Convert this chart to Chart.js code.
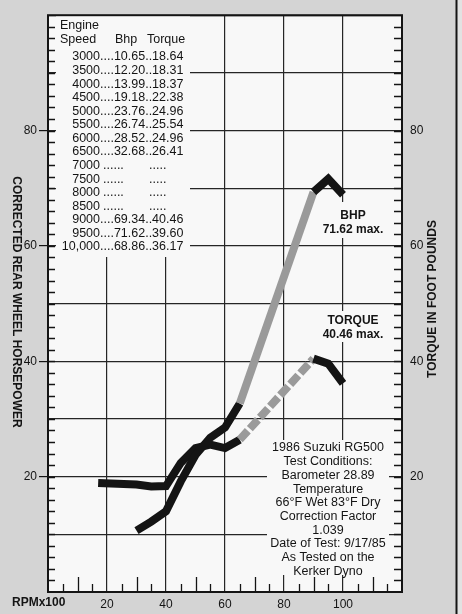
<!DOCTYPE html>
<html>
<head>
<meta charset="utf-8">
<script src="https://cdn.jsdelivr.net/npm/chart.js@4"></script>
<style>
  html, body { margin: 0; padding: 0; background: #d4d4d4; }
  #wrap { width: 462px; height: 614px; position: relative; }
</style>
</head>
<body>
<div id="wrap"><canvas id="dynoChart"></canvas></div>
<script>
// engine speed in RPM x100, same rows as the printed table
const speeds = [30, 35, 40, 45, 50, 55, 60, 65, 70, 75, 80, 85, 90, 95, 100];
const speedLabels = ['3000', '3500', '4000', '4500', '5000', '5500', '6000', '6500',
                     '7000', '7500', '8000', '8500', '9000', '9500', '10,000'];
const bhp    = [10.65, 12.20, 13.99, 19.18, 23.76, 26.74, 28.52, 32.68, null, null, null, null, 69.34, 71.62, 68.86];
const torque = [18.64, 18.31, 18.37, 22.38, 24.96, 25.54, 24.96, 26.41, null, null, null, null, 40.46, 39.60, 36.17];
// the torque trace on the graph starts a little before 3000 rpm
const torqueLeadIn = { x: 17, y: 18.9 };

const testNotes = ['1986 Suzuki RG500', 'Test Conditions:', 'Barometer 28.89', 'Temperature',
                   '66°F Wet 83°F Dry', 'Correction Factor', '1.039', 'Date of Test: 9/17/85',
                   'As Tested on the', 'Kerker Dyno'];

const FONT = '"Liberation Sans", Arial, Helvetica, sans-serif';
const INK = '#141414';
const GREY_TRACE = '#9a9a9a';
const labelled = [20, 40, 60, 80];

// the stretch with no readings (7000-8500) is bridged in grey
const skipped = (c, value, other) => (c.p0.skip || c.p1.skip) ? value : other;

const paperPlugin = {
    id: 'paper',
    beforeDraw(chart) {
        const { ctx, chartArea: a, width, height } = chart;
        ctx.save();
        ctx.fillStyle = '#d4d4d4';
        ctx.fillRect(0, 0, width, height);
        ctx.fillStyle = '#e2e2e2';
        ctx.fillRect(457, 0, width - 457, height);
        ctx.fillStyle = '#f8f8f8';
        ctx.fillRect(a.left, a.top, a.right - a.left, a.bottom - a.top);
        ctx.strokeStyle = INK;
        ctx.lineWidth = 2;
        ctx.beginPath();
        ctx.moveTo(456.5, 0);
        ctx.lineTo(456.5, height);
        ctx.stroke();
        ctx.restore();
    },
    beforeDatasetsDraw(chart) {
        const { ctx, chartArea: a, scales } = chart;
        const x = scales.x, y = scales.y;
        ctx.save();
        // white patches behind the printed text
        ctx.fillStyle = '#f8f8f8';
        ctx.fillRect(56, 16, 134, 241);
        ctx.fillRect(267, 440, 122, 135);
        ctx.fillRect(322, 202, 64, 36);
        ctx.fillRect(322, 311, 64, 31);

        // small inside ticks
        ctx.strokeStyle = INK;
        ctx.lineWidth = 1.3;
        ctx.beginPath();
        for (let v = 2; v < 100; v += 2) {
            const py = Math.round(y.getPixelForValue(v)) + 0.5;
            ctx.moveTo(a.left, py); ctx.lineTo(a.left + 7, py);
            ctx.moveTo(a.right, py); ctx.lineTo(a.right - 8, py);
        }
        for (let v = 5; v < 120; v += 5) {
            if (v % 20 === 0) continue;
            const px = Math.round(x.getPixelForValue(v)) + 0.5;
            ctx.moveTo(px, a.bottom); ctx.lineTo(px, a.bottom - (v % 10 === 0 ? 15 : 8));
        }
        ctx.stroke();

        ctx.lineWidth = 2;
        ctx.strokeRect(a.left, a.top, a.right - a.left, a.bottom - a.top);
        ctx.restore();
    },
    afterDraw(chart) {
        const { ctx } = chart;
        ctx.save();
        ctx.fillStyle = INK;
        ctx.textBaseline = 'middle';

        // axis titles
        ctx.font = 'bold 12px ' + FONT;
        ctx.textAlign = 'center';
        ctx.save();
        ctx.translate(16, 302);
        ctx.rotate(Math.PI / 2);
        ctx.fillText('CORRECTED REAR WHEEL HORSEPOWER', 0, 0);
        ctx.restore();
        ctx.save();
        ctx.translate(433, 299);
        ctx.rotate(-Math.PI / 2);
        ctx.fillText('TORQUE IN FOOT POUNDS', 0, 0);
        ctx.restore();
        ctx.textAlign = 'left';
        ctx.fillText('RPMx100', 12, 603);

        // peak labels
        ctx.textAlign = 'center';
        ctx.fillText('BHP', 353, 216);
        ctx.fillText(Math.max(...bhp.filter(v => v !== null)).toFixed(2) + ' max.', 353, 230);
        ctx.fillText('TORQUE', 353, 321);
        ctx.fillText(Math.max(...torque.filter(v => v !== null)).toFixed(2) + ' max.', 353, 335);

        // test conditions
        ctx.font = '12.5px ' + FONT;
        testNotes.forEach((line, i) => ctx.fillText(line, 328, 448 + i * 13.7));

        // table
        ctx.textAlign = 'left';
        ctx.fillText('Engine', 60, 26);
        ctx.fillText('Speed', 60, 40);
        ctx.fillText('Bhp', 115, 40);
        ctx.fillText('Torque', 147, 40);
        speedLabels.forEach((lab, i) => {
            const ty = 57 + i * 13.57;
            ctx.textAlign = 'right';
            ctx.fillText(lab, 100, ty);
            ctx.textAlign = 'left';
            if (bhp[i] === null) {
                ctx.fillText('......', 103, ty);
                ctx.fillText('.....', 149, ty);
            } else {
                ctx.fillText('....' + bhp[i].toFixed(2) + '..' + torque[i].toFixed(2), 100, ty);
            }
        });
        ctx.restore();
    }
};

const lineStyle = {
    borderColor: INK,
    borderWidth: 8,
    borderCapStyle: 'butt',
    borderJoinStyle: 'miter',
    pointRadius: 0,
    tension: 0,
    spanGaps: true,
    fill: false
};

const ctx = document.getElementById('dynoChart').getContext('2d');
new Chart(ctx, {
    type: 'line',
    data: {
        datasets: [
            {
                label: 'Bhp',
                data: speeds.map((s, i) => ({ x: s, y: bhp[i] })),
                yAxisID: 'y',
                ...lineStyle,
                segment: {
                    borderColor: c => skipped(c, GREY_TRACE, INK)
                }
            },
            {
                label: 'Torque',
                data: [torqueLeadIn, ...speeds.map((s, i) => ({ x: s, y: torque[i] }))],
                yAxisID: 'y2',
                ...lineStyle,
                segment: {
                    borderColor: c => skipped(c, GREY_TRACE, INK),
                    borderDash: c => skipped(c, [12, 3], [])
                }
            }
        ]
    },
    options: {
        responsive: true,
        maintainAspectRatio: false,
        animation: false,
        events: [],
        layout: { padding: { top: 10, left: 0, right: 0, bottom: 0 } },
        plugins: {
            legend: { display: false },
            tooltip: { enabled: false }
        },
        scales: {
            x: {
                type: 'linear',
                min: 0,
                max: 120,
                afterFit: s => { s.height = 22; },
                border: { display: false },
                grid: { color: '#262626', lineWidth: 1.2, drawTicks: false },
                ticks: {
                    stepSize: 20,
                    autoSkip: false,
                    maxRotation: 0,
                    padding: 5,
                    color: INK,
                    font: { family: FONT, size: 12 },
                    callback: v => (v > 0 && v < 120) ? v : ''
                }
            },
            y: {
                position: 'left',
                min: 0,
                max: 100,
                afterFit: s => { s.width = 48; },
                border: { display: false },
                grid: {
                    color: '#262626',
                    lineWidth: 1.2,
                    tickLength: 9,
                    tickColor: c => labelled.includes(c.tick.value) ? INK : 'rgba(0,0,0,0)'
                },
                ticks: {
                    stepSize: 10,
                    padding: 2,
                    color: INK,
                    font: { family: FONT, size: 12 },
                    callback: v => labelled.includes(v) ? v : ''
                }
            },
            y2: {
                position: 'right',
                min: 0,
                max: 100,
                afterFit: s => { s.width = 60; },
                border: { display: false },
                grid: { display: false, drawTicks: false, drawOnChartArea: false },
                ticks: {
                    stepSize: 10,
                    padding: 8,
                    color: INK,
                    font: { family: FONT, size: 12 },
                    callback: v => labelled.includes(v) ? v : ''
                }
            }
        }
    },
    plugins: [paperPlugin]
});
</script>
</body>
</html>
